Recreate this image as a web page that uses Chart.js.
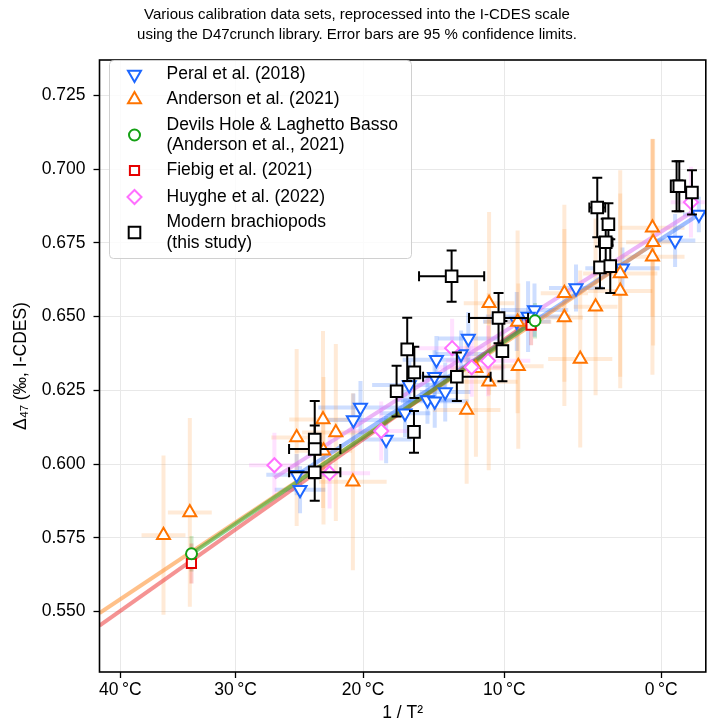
<!DOCTYPE html>
<html><head><meta charset="utf-8">
<script src="https://cdn.jsdelivr.net/npm/chart.js@4.4.0/dist/chart.umd.min.js"></script>
<style>html,body{margin:0;padding:0;background:#fff}#wrap{width:716px;height:725px}</style>
</head><body><div id="wrap"><canvas id="c" width="716" height="725"></canvas></div>
<script>
// ---------- data (x = 1e6 / T^2, T in K ; y = Δ47 I-CDES) ----------
const xTickTemps = [40, 30, 20, 10, 0];
const yTicks = [0.550, 0.575, 0.600, 0.625, 0.650, 0.675, 0.700, 0.725];
const xRange = [10.0748, 13.667];
const yRange = [0.5295, 0.737];

const peralX  = [13.626, 13.485, 13.173, 12.898, 12.652, 12.614, 12.547, 12.260, 12.217, 12.071, 12.060, 11.910, 12.123, 12.018, 12.061, 11.885, 11.621, 11.579, 11.773, 11.243, 11.263];
const peralY  = [0.6846, 0.6758, 0.6664, 0.6597, 0.6522, 0.6500, 0.6483, 0.6426, 0.6373, 0.6354, 0.6296, 0.6268, 0.6244, 0.6217, 0.6213, 0.6172, 0.6192, 0.6149, 0.6083, 0.5964, 0.5913];
const peralEX = [0.094, 0.12, 0.22, 0.16, 0.20, 0.25, 0.20, 0.18, 0.15, 0.20, 0.12, 0.22, 0.15, 0.18, 0.20, 0.15, 0.25, 0.20, 0.15, 0.18, 0.15];
const peralEY = [0.006, 0.009, 0.007, 0.008, 0.009, 0.012, 0.010, 0.009, 0.008, 0.008, 0.009, 0.008, 0.010, 0.008, 0.009, 0.008, 0.009, 0.009, 0.008, 0.007, 0.008];

const andX  = [13.351, 13.355, 13.351, 13.160, 13.160, 12.829, 13.014, 12.829, 12.923, 12.383, 12.552, 12.556, 12.381, 12.250, 12.305, 11.399, 11.243, 11.475, 11.402, 11.576, 10.610, 10.454];
const andY  = [0.6801, 0.6752, 0.6703, 0.6646, 0.6587, 0.6579, 0.6533, 0.6497, 0.6356, 0.6545, 0.6482, 0.6332, 0.6279, 0.6183, 0.6325, 0.6151, 0.6090, 0.6107, 0.6045, 0.5940, 0.5836, 0.5759];
const andEX = [0.19, 0.16, 0.19, 0.22, 0.19, 0.14, 0.13, 0.11, 0.19, 0.15, 0.20, 0.15, 0.17, 0.20, 0.15, 0.20, 0.15, 0.20, 0.17, 0.20, 0.13, 0.13];
const andEY = [0.030, 0.035, 0.040, 0.035, 0.033, 0.030, 0.030, 0.030, 0.030, 0.031, 0.031, 0.028, 0.030, 0.025, 0.030, 0.030, 0.030, 0.030, 0.025, 0.030, 0.032, 0.027];

const devX  = [10.620, 12.655];
const devY  = [0.5696, 0.6486];
const devEX = [0.01, 0.01];
const devEY = [0.006, 0.006];

const fieX  = [10.6195, 12.632];
const fieY  = [0.5663, 0.6471];
const fieEX = [0.01, 0.01];
const fieEY = [0.0068, 0.0068];

const huyX  = [13.579, 12.164, 12.377, 12.280, 11.744, 11.111, 11.438];
const huyY  = [0.6888, 0.6393, 0.6350, 0.6328, 0.6112, 0.5996, 0.5969];
const huyEX = [0.12, 0.20, 0.25, 0.20, 0.20, 0.15, 0.24];
const huyEY = [0.012, 0.010, 0.012, 0.010, 0.010, 0.011, 0.012];

const braX  = [12.161, 12.439, 12.462, 11.898, 11.940, 12.192, 11.835, 11.938, 11.350, 11.350, 11.350, 13.024, 13.090, 13.074, 13.040, 13.101, 13.494, 13.510, 13.585];
const braY  = [0.6637, 0.6495, 0.6383, 0.6389, 0.6311, 0.6296, 0.6247, 0.6109, 0.6083, 0.6051, 0.5972, 0.6870, 0.6813, 0.6752, 0.6667, 0.6671, 0.6942, 0.6942, 0.6921];
const braEX = [0.193, 0.175, 0, 0, 0.03, 0.20, 0, 0, 0, 0.152, 0.152, 0.047, 0.03, 0.04, 0, 0, 0, 0, 0];
const braEY = [0.0087, 0.0085, 0.0102, 0.0107, 0.0087, 0.0082, 0.0086, 0.0071, 0.0131, 0.0080, 0.0096, 0.0101, 0.0071, 0.0080, 0.0071, 0.0091, 0.0085, 0.0085, 0.0075];

// regression lines (end points)
const lineAndX = [10.0748, 13.354], lineAndY = [0.5495, 0.6746];
const lineFieX = [10.0748, 12.632], lineFieY = [0.5452, 0.6486];
const lineDevX = [10.620, 12.655],  lineDevY = [0.5696, 0.6486];
const linePerX = [11.243, 13.626],  linePerY = [0.5962, 0.6846];
const lineHuyX = [11.111, 13.579],  lineHuyY = [0.5953, 0.6852];

const titleLines = ['Various calibration data sets, reprocessed into the I-CDES scale',
                    'using the D47crunch library. Error bars are 95 % confidence limits.'];

// ---------- helpers ----------
const FONT = "'Liberation Sans', Arial, Helvetica, sans-serif";
function invT2(tC){ const k = tC + 273.15; return 1e6 / (k * k); }
function pts(xs, ys){ return xs.map((x, i) => ({x: x, y: ys[i]})); }

const series = [
  {label:['Peral et al. (2018)'], x:peralX, y:peralY, ex:peralEX, ey:peralEY, color:'#1d67ff', bar:'rgba(30,105,255,0.22)', style:'triangle', rot:180, r:7.5, order:4},
  {label:['Anderson et al. (2021)'], x:andX, y:andY, ex:andEX, ey:andEY, color:'#ff7400', bar:'rgba(255,130,20,0.17)', style:'triangle', rot:0, r:7.5, order:3},
  {label:['Devils Hole & Laghetto Basso','(Anderson et al., 2021)'], x:devX, y:devY, ex:devEX, ey:devEY, color:'#14a014', bar:'rgba(20,160,20,0.2)', style:'circle', rot:0, r:5.5, order:1},
  {label:['Fiebig et al. (2021)'], x:fieX, y:fieY, ex:fieEX, ey:fieEY, color:'#e60000', bar:'rgba(230,0,0,0.2)', style:'rect', rot:0, r:6.5, order:2},
  {label:['Huyghe et al. (2022)'], x:huyX, y:huyY, ex:huyEX, ey:huyEY, color:'#ff70ff', bar:'rgba(255,110,255,0.2)', style:'rectRot', rot:0, r:7, order:2},
  {label:['Modern brachiopods','(this study)'], x:braX, y:braY, ex:braEX, ey:braEY, color:'#000000', bar:null, style:'rect', rot:0, r:8.2, order:0}
];

const lines = [
  {x:linePerX, y:linePerY, color:'rgba(40,110,255,0.45)', order:14},
  {x:lineAndX, y:lineAndY, color:'rgba(255,140,40,0.55)', order:13},
  {x:lineFieX, y:lineFieY, color:'rgba(235,40,40,0.5)', order:12},
  {x:lineDevX, y:lineDevY, color:'rgba(40,170,40,0.55)', order:11},
  {x:lineHuyX, y:lineHuyY, color:'rgba(220,120,240,0.55)', order:10}
];

const datasets = [];
series.forEach(s => datasets.push({
  type:'scatter', data: pts(s.x, s.y), showLine:false,
  pointStyle: s.style, pointRotation: s.rot, pointRadius: s.r,
  pointBorderColor: s.color, pointBackgroundColor:'#ffffff', pointBorderWidth: 2,
  order: s.order, _series: s
}));
lines.forEach(l => datasets.push({
  type:'scatter', data: pts(l.x, l.y), showLine:true, pointRadius:0,
  borderColor: l.color, borderWidth: 4, borderCapStyle:'butt', order: l.order, fill:false
}));

function drawBars(chart, s, ctx, color, width, cap){
  const xs = chart.scales.x, ys = chart.scales.y;
  ctx.strokeStyle = color; ctx.lineWidth = width; ctx.lineCap = 'butt';
  s.x.forEach((xv, i) => {
    const px = xs.getPixelForValue(xv), py = ys.getPixelForValue(s.y[i]);
    const ex = s.ex[i], ey = s.ey[i];
    if (ey > 0){
      const y1 = ys.getPixelForValue(s.y[i] + ey), y2 = ys.getPixelForValue(s.y[i] - ey);
      ctx.beginPath(); ctx.moveTo(px, y1); ctx.lineTo(px, y2); ctx.stroke();
      if (cap){ ctx.beginPath(); ctx.moveTo(px - cap, y1); ctx.lineTo(px + cap, y1);
        ctx.moveTo(px - cap, y2); ctx.lineTo(px + cap, y2); ctx.stroke(); }
    }
    if (ex > 0){
      const x1 = xs.getPixelForValue(xv - ex), x2 = xs.getPixelForValue(xv + ex);
      ctx.beginPath(); ctx.moveTo(x1, py); ctx.lineTo(x2, py); ctx.stroke();
      if (cap){ ctx.beginPath(); ctx.moveTo(x1, py - cap); ctx.lineTo(x1, py + cap);
        ctx.moveTo(x2, py - cap); ctx.lineTo(x2, py + cap); ctx.stroke(); }
    }
  });
}

const errorBarPlugin = {
  id:'errorBars',
  beforeDatasetsDraw(chart){
    const ctx = chart.ctx, a = chart.chartArea;
    ctx.save(); ctx.beginPath(); ctx.rect(a.left, a.top, a.right - a.left, a.bottom - a.top); ctx.clip();
    series.forEach(s => { if (s.bar) drawBars(chart, s, ctx, s.bar, 4, 0); });
    ctx.restore();
  },
  beforeDatasetDraw(chart, args){
    const ds = chart.data.datasets[args.index];
    if (ds._series && ds._series.bar === null){
      const ctx = chart.ctx, a = chart.chartArea;
      ctx.save(); ctx.beginPath(); ctx.rect(a.left, a.top, a.right - a.left, a.bottom - a.top); ctx.clip();
      drawBars(chart, ds._series, ctx, '#000', 2, 5);
      ctx.restore();
    }
  }
};

const framePlugin = {
  id:'frame',
  afterDatasetsDraw(chart){
    const ctx = chart.ctx, a = chart.chartArea;
    ctx.save(); ctx.strokeStyle = '#000'; ctx.lineWidth = 1.6;
    ctx.strokeRect(a.left, a.top, a.right - a.left, a.bottom - a.top);
    ctx.restore();
  }
};

const legendPlugin = {
  id:'customLegend',
  afterDraw(chart){
    const ctx = chart.ctx;
    const bx = 109.5, by = 60.5, bw = 302, bh = 198, rad = 4;
    ctx.save();
    ctx.beginPath();
    ctx.moveTo(bx + rad, by); ctx.lineTo(bx + bw - rad, by); ctx.arcTo(bx + bw, by, bx + bw, by + rad, rad);
    ctx.lineTo(bx + bw, by + bh - rad); ctx.arcTo(bx + bw, by + bh, bx + bw - rad, by + bh, rad);
    ctx.lineTo(bx + rad, by + bh); ctx.arcTo(bx, by + bh, bx, by + bh - rad, rad);
    ctx.lineTo(bx, by + rad); ctx.arcTo(bx, by, bx + rad, by, rad); ctx.closePath();
    ctx.fillStyle = 'rgba(255,255,255,0.8)'; ctx.fill();
    ctx.strokeStyle = '#d0d0d0'; ctx.lineWidth = 1; ctx.stroke();
    const rows = [74.5, 99.5, 135, 170.5, 197, 232.5];
    const lineGap = 20.5;
    ctx.font = '17.5px ' + FONT; ctx.textBaseline = 'middle'; ctx.textAlign = 'left';
    series.forEach((s, i) => {
      const cy = rows[i];
      ctx.fillStyle = '#fff'; ctx.strokeStyle = s.color; ctx.lineWidth = 2;
      Chart.helpers.drawPoint(ctx, {pointStyle: s.style, rotation: s.rot, radius: s.r, borderWidth: 2}, 134.5, cy);
      ctx.fillStyle = '#000';
      const n = s.label.length;
      s.label.forEach((t, j) => {
        ctx.fillText(t, 166.5, cy + (j - (n - 1) / 2) * lineGap);
      });
    });
    ctx.restore();
  }
};

function zeroPad(s){ s.paddingLeft = 0; s.paddingRight = 0; s.paddingTop = 0; s.paddingBottom = 0; }

const tickFont = {family: FONT, size: 17.5};
new Chart(document.getElementById('c'), {
  type: 'scatter',
  data: {datasets: datasets},
  plugins: [errorBarPlugin, framePlugin, legendPlugin],
  options: {
    responsive: false, animation: false, events: [],
    layout: {padding: {top: 0, left: 0, right: 2, bottom: 0}},
    plugins: {
      legend: {display: false}, tooltip: {enabled: false},
      title: {display: true, text: titleLines, color: '#000',
              font: {family: FONT, size: 15, weight: 'normal', lineHeight: 1.3333},
              padding: {top: 5, bottom: 15}}
    },
    scales: {
      x: {
        type: 'linear', min: xRange[0], max: xRange[1],
        afterFit(s){ s.height = 53; zeroPad(s); },
        afterBuildTicks(s){ s.ticks = xTickTemps.map(t => ({value: invT2(t)})); },
        ticks: {callback: (v, i) => xTickTemps[i] + '\u2009°C', color: '#000', font: tickFont, padding: 2, autoSkip: false, maxRotation: 0},
        grid: {color: '#e8e8e8', lineWidth: 1, tickLength: 6, tickColor: '#000', tickWidth: 1.3},
        border: {display: false},
        title: {display: true, text: '1 / T²', color: '#000', font: tickFont, padding: {top: 0, bottom: 1}}
      },
      y: {
        type: 'linear', min: yRange[0], max: yRange[1],
        afterFit(s){ s.width = 99.5; zeroPad(s); },
        afterBuildTicks(s){ s.ticks = yTicks.map(v => ({value: v})); },
        ticks: {callback: v => v.toFixed(3), color: '#000', font: tickFont, padding: 8, autoSkip: false},
        grid: {color: '#e8e8e8', lineWidth: 1, tickLength: 6, tickColor: '#000', tickWidth: 1.3},
        border: {display: false},
        title: {display: true, text: 'Δ₄₇ (‰, I-CDES)', color: '#000', font: tickFont, padding: {top: 11, bottom: 0}}
      }
    }
  }
});
</script>
</body></html>
